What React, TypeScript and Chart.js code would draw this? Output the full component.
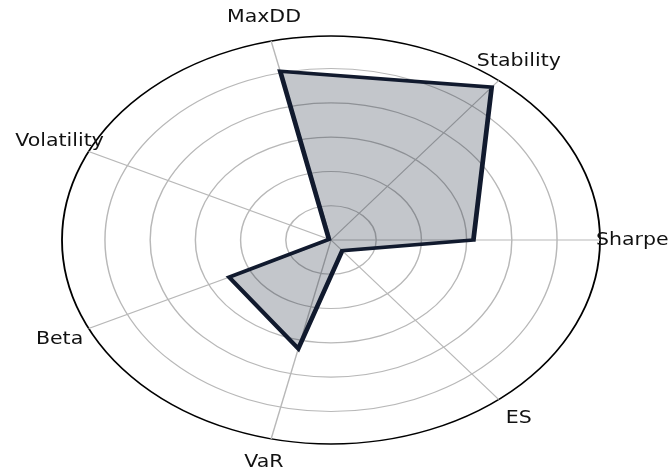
import React, { useEffect, useRef } from "react";
import { Chart, registerables } from "chart.js";

Chart.register(...registerables);

// Metrics in counter-clockwise order starting at the right (0°)
const metrics: string[] = ["Sharpe", "Stability", "MaxDD", "Volatility", "Beta", "VaR", "ES"];
const scores: number[] = [0.63, 1.14, 1.01, 0.01, 0.5, 0.65, 0.08];
const gridTicks: number[] = [0.2, 0.4, 0.6, 0.8, 1.0];
const rMax = 1.19;

// Chart.js radar runs clockwise; reorder so the result reads counter-clockwise
const order = [0, ...metrics.slice(1).map((_, i) => metrics.length - 1 - i)];
const chartLabels = order.map((i) => metrics[i]);
const chartValues = order.map((i) => scores[i]);

const W = 671;
const H = 476;
const TARGET_RX = 269;
const LABEL_FACTOR = 1.12;
const TEXT_STRETCH = 1.14;

const stretchPlugin = {
  id: "stretchPlugin",
  beforeDraw(chart: any) {
    const s = chart.scales.r;
    const ctx = chart.ctx;
    const sx = TARGET_RX / s.drawingArea;
    ctx.save();
    ctx.translate(s.xCenter, 0);
    ctx.scale(sx, 1);
    ctx.translate(-s.xCenter, 0);
  },
  afterDraw(chart: any) {
    const ctx = chart.ctx;
    ctx.restore();
    const s = chart.scales.r;
    const sx = TARGET_RX / s.drawingArea;
    ctx.save();
    ctx.fillStyle = "#111111";
    ctx.font = '18px "DejaVu Sans"';
    ctx.textAlign = "center";
    ctx.textBaseline = "middle";
    chartLabels.forEach((lab, i) => {
      const p = s.getPointPosition(i, s.drawingArea * LABEL_FACTOR);
      const x = s.xCenter + (p.x - s.xCenter) * sx;
      const y = p.y;
      ctx.save();
      ctx.translate(x, y);
      ctx.scale(TEXT_STRETCH, 1);
      ctx.fillText(lab, 0, 0);
      ctx.restore();
    });
    ctx.restore();
  },
};

export default function App() {
  const ref = useRef<HTMLCanvasElement | null>(null);

  useEffect(() => {
    if (!ref.current) return;
    const chart = new Chart(ref.current, {
      type: "radar",
      data: {
        labels: chartLabels,
        datasets: [
          {
            data: chartValues,
            backgroundColor: "rgba(17,26,46,0.25)",
            borderColor: "#111a2e",
            borderWidth: 3.6,
            borderJoinStyle: "miter",
            pointRadius: 0,
            pointHoverRadius: 0,
            fill: true,
            tension: 0,
            clip: false as any,
          },
        ],
      },
      options: {
        responsive: false,
        animation: false,
        events: [],
        layout: { padding: { top: 35, bottom: 31, left: 127, right: 135 } },
        plugins: { legend: { display: false }, tooltip: { enabled: false } },
        scales: {
          r: {
            min: 0,
            max: rMax,
            startAngle: 90,
            afterBuildTicks: (scale: any) => {
              scale.ticks = [0, ...gridTicks, rMax].map((v) => ({ value: v }));
            },
            ticks: { display: false },
            pointLabels: { display: false },
            grid: {
              circular: true,
              color: (c: any) => (c.tick && c.tick.value >= rMax - 1e-9 ? "#000000" : "#b8b8b8"),
              lineWidth: (c: any) => (c.tick && c.tick.value >= rMax - 1e-9 ? 1.4 : 1.1),
            },
            angleLines: { display: true, color: "#b8b8b8", lineWidth: 1.1 },
          },
        },
      },
      plugins: [stretchPlugin],
    } as any);
    return () => chart.destroy();
  }, []);

  return (
    <div style={{ position: "fixed", left: 0, top: 0, width: W, height: H, background: "#ffffff" }}>
      <canvas ref={ref} width={W} height={H} style={{ display: "block" }} />
    </div>
  );
}
